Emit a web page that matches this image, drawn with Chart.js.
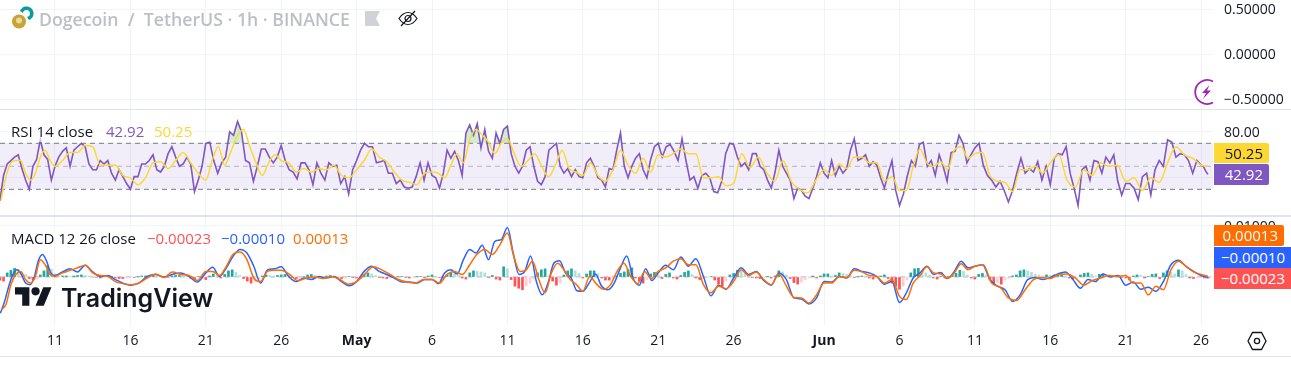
<!DOCTYPE html>
<html>
<head>
<meta charset="utf-8">
<title>DOGE/USDT RSI MACD</title>
<script src="https://cdn.jsdelivr.net/npm/chart.js@4"></script>
<style>
    html, body { margin: 0; padding: 0; background: #fff; overflow: hidden; }
    body { width: 1291px; height: 368px; position: relative; font-family: "Open Sans", sans-serif; color: #131722; }
    canvas { position: absolute; left: 0; }
    .sep { position: absolute; left: 0; width: 1291px; background: #e0e3eb; }
    .txt { position: absolute; white-space: pre; font-size: 15px; line-height: 20px; }
    .legend { position: absolute; left: 8px; height: 20px; background: rgba(255, 255, 255, .6); }
    .tag { position: absolute; left: 1214px; font-size: 15px; text-align: right; padding-right: 6px; box-sizing: border-box; border-radius: 0 2px 2px 0; }
    svg { position: absolute; overflow: visible; }
</style>
</head>
<body>
<canvas id="topChart" width="1291" height="109" style="top:0"></canvas>
<canvas id="rsiChart" width="1291" height="105" style="top:110px"></canvas>
<canvas id="macdChart" width="1291" height="139" style="top:217px"></canvas>

<div class="sep" style="top:109px;height:1px"></div>
<div class="sep" style="top:215px;height:2px"></div>
<div class="sep" style="top:356px;height:1px"></div>

<!-- 标题 -->
<svg style="left:0;top:0" width="60" height="40">
    <circle cx="19" cy="21.5" r="7" fill="#c9a432"/>
    <circle cx="19" cy="20.5" r="3" fill="#e8d9a0"/>
    <path d="M20 11a7 7 0 1 1 9 9l-2-3a3.500 3.500 0 1 0-4-4z" fill="#0a9a9a"/>
</svg>
<div class="txt" style="left:39px;top:7px;font-size:17.7px;line-height:24px;font-weight:600;color:#bdbfc6">Dogecoin  /  TetherUS · 1h · BINANCE</div>
<svg style="left:365px;top:11px" width="15" height="15"><path d="M0 0h15l-4 7.500 4 7.500h-15z" fill="#d1d2d6"/></svg>
<svg style="left:398px;top:10px" width="20" height="17" fill="none" stroke="#131722" stroke-width="1.200">
    <path d="M1 8.500c3-4.500 6-6 9-6s6 1.500 9 6c-3 4.500-6 6-9 6s-6-1.500-9-6z"/>
    <circle cx="10" cy="8.500" r="3"/>
    <path d="M3 16L17 1"/>
</svg>

<!-- 闪电图标 -->
<svg style="left:1193px;top:79px" width="20" height="26" fill="none">
    <path d="M20 2.500A12 12 0 1 0 20 23.500" stroke="#9c27b0" stroke-width="1.800"/>
    <path d="M16.500 6L9 14h4l-3 6 8-8.500h-4z" fill="#9c27b0"/>
</svg>

<!-- RSI 图例 -->
<div class="legend" style="top:122px;width:188px"></div>
<div class="txt" style="left:11px;top:121px">RSI 14 close</div>
<div class="txt" style="left:106px;top:121px;color:#7e57c2">42.92</div>
<div class="txt" style="left:154px;top:121px;color:#fdd835">50.25</div>
<div class="tag" style="top:143px;height:20px;line-height:20px;width:55px;background:#fdd835">50.25</div>
<div class="tag" style="top:164px;height:21px;line-height:21px;width:55px;background:#7e57c2;color:#fff">42.92</div>

<!-- MACD 图例 -->
<div class="legend" style="top:228px;width:344px"></div>
<div class="txt" style="left:11px;top:228px">MACD 12 26 close</div>
<div class="txt" style="left:147px;top:228px;color:#ff5252">−0.00023</div>
<div class="txt" style="left:221px;top:228px;color:#2962ff">−0.00010</div>
<div class="txt" style="left:293px;top:228px;color:#ff6d00">0.00013</div>
<div class="tag" style="top:225px;height:21px;line-height:21px;width:70px;background:#ff6d00;color:#fff">0.00013</div>
<div class="tag" style="top:247px;height:21px;line-height:21px;width:77px;background:#2962ff;color:#fff;border-radius:0">−0.00010</div>
<div class="tag" style="top:268px;height:21px;line-height:21px;width:77px;background:#ff5252;color:#fff;border-radius:0">−0.00023</div>

<!-- 水印 -->
<svg style="left:15px;top:283px" width="37" height="29" viewBox="0 0 36 28" fill="#131722">
    <path d="M14 22H7V11H0V4h14v18zM28 22h-8l7.500-18h8L28 22z"/>
    <circle cx="20" cy="8" r="4"/>
</svg>
<div class="txt" style="left:61px;top:282px;font-family:Inter,sans-serif;font-size:25px;line-height:32px;font-weight:600;color:#131722">TradingView</div>

<svg style="left:1247px;top:331px" width="20" height="20" fill="none" stroke="#131722" stroke-width="1.300">
    <path d="M5.500 1.500h9L19 10l-4.500 8.500h-9L1 10z"/>
    <circle cx="10" cy="10" r="2.600"/>
</svg>

<script>
// 每段的起止日（以 4月11日 为第 0 天）
const blockDays = [-3.9, 0, 5, 10, 15, 20, 25, 30, 35, 40, 45, 51, 56, 61, 66, 71, 76, 76.45];

const tickDays = [0, 5, 10, 15, 20, 25, 30, 35, 40, 45, 51, 56, 61, 66, 71, 76];
const tickLabels = ['11', '16', '21', '26', 'May', '6', '11', '16', '21', '26', 'Jun', '6', '11', '16', '21', '26'];
const boldLabels = ['May', 'Jun'];

const topTicks = [0.5, 0, -0.5];
const rsiTicks = [80, 40];
const macdTicks = [0.01, 0];

const rsiValues = [
    [20, 42, 52, 55, 58, 60, 48, 38, 30, 50, 56, 73, 60, 56, 38, 50],
    [58, 63, 66, 50, 64, 67, 70, 67, 52, 47, 47, 55, 52, 55, 44, 38, 47, 41, 35, 30],
    [41, 41, 52, 52, 55, 60, 47, 45, 50, 61, 67, 58, 50, 52, 58, 52, 28, 38, 50, 70],
    [71, 55, 44, 53, 58, 80, 77, 89, 80, 55, 53, 37, 50, 65, 65, 58, 53, 58, 68],
    [55, 47, 45, 39, 53, 53, 47, 34, 53, 44, 38, 53, 50, 51, 35, 41, 26, 47, 55],
    [64, 70, 67, 67, 53, 54, 55, 44, 44, 35, 38, 32, 31, 32, 41, 53, 38, 53, 42],
    [40, 31, 44, 64, 57, 63, 55, 42, 79, 86, 77, 87, 66, 82, 63, 57, 79, 70, 82, 85],
    [61, 50, 44, 50, 64, 67, 50, 37, 34, 41, 64, 67, 70, 50, 44, 48, 41, 47, 41, 40],
    [53, 57, 50, 40, 38, 32, 48, 47, 64, 79, 50, 40, 50, 57, 61, 47, 40, 56, 67, 70],
    [58, 67, 69, 63, 55, 74, 55, 38, 41, 31, 42, 44, 40, 28, 27, 37, 61, 70, 69],
    [58, 50, 53, 47, 61, 61, 50, 47, 38, 31, 45, 64, 50, 44, 38, 22, 31, 29, 24, 22, 31, 41, 53, 44],
    [40, 55, 42, 50, 44, 48, 64, 74, 55, 57, 60, 50, 54, 51, 40, 31, 44, 55, 29, 16],
    [26, 42, 55, 50, 69, 71, 50, 55, 42, 60, 50, 37, 62, 63, 77, 70, 53, 60, 66],
    [70, 51, 42, 38, 32, 37, 29, 19, 29, 44, 57, 44, 48, 45, 54, 38, 50, 34],
    [57, 61, 60, 67, 44, 31, 16, 47, 50, 38, 55, 54, 44, 58, 53, 60, 37, 25, 35],
    [35, 31, 21, 41, 44, 25, 47, 55, 50, 73, 71, 58, 61, 60, 55, 44, 55, 51],
    [50, 46, 42.92]
];

const rsiSignal = [
    [21, 41, 53, 55, 55, 44, 38, 44, 58, 64, 55, 50],
    [55, 62, 62, 68, 67, 51, 51, 51, 42, 40],
    [34, 40, 53, 54, 48, 55, 62, 53, 44, 38],
    [55, 67, 51, 63, 76, 82, 67, 53, 42, 53, 60, 55],
    [53, 45, 48, 45, 48, 47, 51, 42, 40, 47],
    [55, 65, 58, 54, 45, 38, 36, 34, 44, 45],
    [44, 40, 51, 61, 53, 73, 82, 77, 71, 61, 70, 74],
    [61, 50, 55, 61, 50, 41, 51, 64, 48, 45, 42],
    [53, 42, 37, 47, 64, 51, 44, 57, 45, 60],
    [58, 61, 65, 61, 61, 40, 40, 41, 33, 35],
    [61, 49, 58, 45, 37, 55, 37, 30, 27, 38, 47],
    [42, 52, 48, 58, 58, 53, 53, 37, 41, 29],
    [29, 50, 65, 53, 50, 54, 47, 64, 67, 57, 61],
    [62, 42, 37, 36, 28, 47, 47, 50, 44, 53],
    [60, 38, 32, 47, 42, 53, 50, 51, 37],
    [40, 29, 40, 36, 53, 67, 60, 57, 51],
    [50.5, 50.25]
];

const macdValues = [
    [-0.0071, -0.0048, -0.0018, 0.0005, 0.0014, 0.0005, -0.0012, -0.0015, -0.0002, 0.0031, 0.0044, 0.0031, 0.0008, 0.0003],
    [0.001, 0.0016, 0.001, 0.0023, 0.001, 0.0001, 0.0003, -0.0005, -0.0012, -0.0016],
    [-0.0012, 0.0001, 0.0005, 0, 0.0005, 0.0008, 0.0001, -0.001, 0.0008],
    [0.0019, 0.0001, 0.0018, 0.0041, 0.0054, 0.0047, 0.0021, -0.0012, 0.0014, 0.0016, 0.002],
    [0.0001, -0.0009, -0.0002, -0.0005, 0.0001, -0.0002, 0.0001, -0.0009, -0.0017, -0.0009],
    [0.0011, 0.0021, 0.0011, 0.0005, -0.0002, -0.001, -0.001, -0.0012, -0.0005, -0.0005],
    [-0.0013, 0.0008, 0.0014, 0.0006, 0.0034, 0.0054, 0.0047, 0.0062, 0.0034, 0.007, 0.0073, 0.0097],
    [0.0047, 0.0005, 0.0011, 0.0041, -0.0009, -0.0035, -0.0012, 0.0027, 0.0032, 0.0008, -0.0002, -0.0027, -0.0028],
    [-0.0012, 0.0006, -0.0018, -0.0025, -0.0012, 0.0018, 0.0041, -0.0002, -0.0016, 0.0016, -0.0007, 0.0008],
    [0.0023, 0.0014, 0.0039, 0.0021, 0.0036, 0.0001, -0.0037, -0.0016, -0.0024, -0.0002],
    [0.0018, 0.0005, 0.0011, -0.0007, -0.0016, 0.0008, -0.0005, -0.0041, -0.0043, -0.0053, -0.0041, -0.0009],
    [-0.001, 0.0001, -0.0002, 0.0016, 0.0011, 0.0008, 0.0001, -0.0014, -0.0009, -0.005],
    [-0.0031, -0.0002, 0.0008, 0.0021, 0.0005, 0.0009, -0.0003, 0.0011, 0.0031, 0.0018, 0.0021],
    [0.0024, -0.0005, -0.0018, -0.0025, -0.0048, -0.0035, -0.0005, -0.0001, -0.0005, -0.0001],
    [0.0006, 0.001, -0.0005, -0.0022, -0.0005, -0.0009, 0.0006, 0, 0.0003, -0.0016],
    [-0.001, -0.0024, -0.002, -0.0028, -0.0009, 0.0024, 0.0033, 0.0021, 0.0011, 0.0003],
    [-0.0001]
];

const macdSignal = [
    [-0.0064, -0.0054, -0.0015, 0.0005, 0.0011, -0.0005, -0.0012, 0.0001, 0.0034, 0.0024, 0.0005, 0.0001],
    [0.0008, 0.0013, 0.0018, 0.0023, 0.0008, 0.0003, 0.0001, -0.0009, -0.0013, -0.0015],
    [-0.0012, -0.0002, 0.0006, -0.0001, 0.001, 0.0005, 0.0003, -0.0007, 0.0011],
    [0.0011, 0.0003, 0.0021, 0.0045, 0.0049, 0.0034, -0.0002, -0.0009, 0.0011, 0.0013, 0.0013],
    [0.0005, -0.0007, -0.0002, 0, -0.0003, 0.0001, -0.0005, -0.0014, -0.0009],
    [0.0006, 0.002, 0.0014, 0.0005, -0.0005, -0.001, -0.0012, -0.0005, -0.0005],
    [-0.0012, 0.0005, 0.0011, 0.0005, 0.0024, 0.0045, 0.0054, 0.0044, 0.0063, 0.0086],
    [0.0041, 0.0011, 0.0014, 0.0031, -0.0005, -0.0031, 0.0008, 0.0027, 0.0014, -0.0005, -0.0015, -0.0028],
    [0.0001, -0.0014, -0.0024, -0.0016, 0.0011, 0.0027, 0.0001, -0.0013, 0.0011, -0.0003, 0.0011],
    [0.0018, 0.0031, 0.0036, 0.0024, 0.0024, -0.0015, -0.0031, -0.0018, -0.0023, -0.0009],
    [0.0014, 0.0003, 0.001, -0.0005, -0.0015, 0.0006, -0.0018, -0.004, -0.0041, -0.0051, -0.0035, -0.0012],
    [-0.0012, 0.0001, -0.0001, 0.0013, 0.001, 0.0003, 0.0001, -0.0012, -0.0005, -0.0038],
    [-0.0044, -0.0012, 0.0003, 0.002, 0.0008, 0.0006, -0.0002, 0.0008, 0.0026, 0.0014, 0.0021],
    [0.0024, -0.0012, -0.002, -0.0041, -0.0046, -0.0025, -0.0005, -0.0001, -0.0003],
    [0.0005, 0.0006, -0.0002, -0.0016, -0.0007, -0.0002, 0.0003, 0.0001, 0.0003],
    [-0.0012, -0.0012, -0.0035, -0.0018, -0.0025, 0.0014, 0.0031, 0.0021, 0.001, 0.0005],
    [0.00013]
];

const histValues = [
    [-0.0006, -0.0008, 0.0008, 0.0013, 0.0017, 0.0014, 0.001, 0.0005, -0.0003, -0.0005, -0.0004, 0.0004, 0.0012, 0.0022, 0.0015, 0.0006],
    [0.0001, 0.0002, 0.0002, 0.0001, 0.0002, 0.0003, 0.0004, 0.0003, 0.0002, 0.0001, -0.0001, -0.0002, -0.0001, 0.0001, 0.0001, -0.0002, -0.0003, -0.0003, -0.0002, -0.0001],
    [-0.0001, 0.0001, 0.0002, 0.0002, 0.0003, 0.0003, 0.0002, 0.0001, -0.0001, -0.0001, 0.0002, 0.0003, 0.0003, 0.0002, 0.0001, -0.0002, -0.0004, 0.0001, -0.0002, -0.0005],
    [0.0002, 0.0006, 0.0003, -0.0002, 0.0005, 0.0012, 0.0014, 0.0009, 0.0003, -0.0003, -0.0008, -0.0012, -0.0009, -0.0004, 0.0002, 0.0004, 0.0003, 0.0002, 0.0003, 0.0004],
    [0.0005, 0.0003, -0.0001, -0.0003, -0.0002, 0.0001, 0.0004, 0.0005, 0.0003, 0.0001, -0.0001, 0.0002, 0.0003, 0.0002, -0.0001, -0.0003, -0.0002, 0.0001, -0.0001, -0.0002],
    [-0.0003, 0.0005, 0.0008, 0.0006, 0.0003, -0.0001, -0.0002, -0.0003, -0.0002, -0.0001, 0.0001, 0.0001, -0.0001, -0.0002, -0.0001, 0.0001, 0.0001, -0.0001, 0.0002, 0.0004],
    [0.0001, -0.0001, -0.0002, 0.0004, 0.0008, 0.0006, 0.0004, -0.0002, -0.0004, 0.0008, 0.0012, 0.0011, 0.001, 0.0008, -0.0001, 0.0003, -0.0004, -0.0006, 0.002, 0.0016],
    [-0.0005, -0.0018, -0.0022, -0.0025, -0.0018, -0.0012, -0.0004, 0.0008, 0.0014, 0.0016, 0.0002, -0.0008, -0.0016, -0.0012, 0.0004, 0.0012, 0.0016, 0.0012, 0.0007, -0.0002],
    [0.0006, 0.0012, 0.0012, 0.0006, -0.0002, -0.0006, -0.0006, -0.0003, 0.0002, 0.0007, 0.001, 0.0015, 0.0018, -0.0002, -0.0008, -0.0012, -0.0005, 0.0006, 0.0009, 0.0004],
    [-0.0003, 0.0005, 0.0008, -0.0002, -0.0004, 0.0003, 0.0009, 0.0012, 0.0005, -0.0002, -0.0005, -0.0003, -0.0002, 0.0001, -0.0006, -0.0014, -0.0018, -0.0008, 0.0004, 0.0007],
    [0.0013, 0.0011, 0.0006, 0.0003, -0.0001, -0.0002, -0.0003, -0.0001, 0.0001, -0.0002, 0.0002, 0.0012, 0.001, 0.0004, -0.0003, -0.0011, -0.0014, -0.001, -0.0005, -0.0002, 0.0002, -0.0002, 0.0002, 0.0006],
    [0.0006, 0.0002, 0.0003, 0.0008, 0.0007, 0.0005, 0.0003, -0.0001, 0.0001, 0.0002, 0.0001, -0.0002, -0.0004, 0.0001, 0.0002, 0.0004, -0.0003, -0.0012, -0.0018, -0.0024],
    [-0.0018, -0.0006, 0.0008, 0.0016, 0.0017, 0.0012, 0.0008, 0.0004, -0.0002, -0.0004, 0.0001, -0.0002, 0.0001, 0.0003, 0.0007, 0.0013, 0.0011, 0.0004, -0.0002, -0.0004],
    [0.0005, 0.0007, 0.0004, -0.0006, -0.0012, -0.0011, -0.0014, -0.0006, -0.0003, 0.0002, 0.0004, 0.0012, 0.0014, 0.0012, 0.0009, 0.0005, 0.0004, 0.0002, 0.0004, 0.0003],
    [0.0004, 0.0005, 0.0006, 0.0002, -0.0002, -0.0004, -0.0002, 0.0004, 0.0007, 0.0008, 0.0005, 0.0002, 0.0005, 0.0006, 0.0004, 0.0002, 0.0001, 0.0002, -0.0001, -0.0002],
    [-0.0006, 0.0002, 0.0004, 0.0003, -0.0002, 0.0001, 0.0005, 0.0006, -0.0003, 0.0008, 0.0012, 0.001, 0.0006, 0.0014, 0.0012, 0.0005, -0.0002, -0.0003, -0.0002, -0.0001],
    [-0.0002, -0.00023]
];

const xMin = -3.647;
const xMax = 76.79;
const gridColor = '#f0f3fa';
const fontName = '"Open Sans", sans-serif';

const toPoints = (blocks) => blocks.flatMap((vals, b) => vals.map((y, j) => ({
    x: blockDays[b] + (j + 1) * (blockDays[b + 1] - blockDays[b]) / vals.length,
    y: y
})));

const levelLine = (y, color, extra) => Object.assign({
    type: 'line',
    data: [{x: xMin, y: y}, {x: xMax, y: y}],
    borderColor: color,
    borderWidth: 1,
    borderDash: [5, 4],
    pointRadius: 0,
    order: 5
}, extra);

const histColors = (vals) => vals.map((v, i) => {
    const prev = i > 0 ? vals[i - 1] : 0;
    if (v >= 0) return v >= prev ? '#26a69a' : '#b2dfdb';
    return v <= prev ? '#ff5252' : '#ffcdd2';
});

const makeOptions = (yMin, yMax, yTicks, yFormat, showX) => ({
    responsive: false,
    animation: false,
    events: [],
    layout: {padding: 0},
    plugins: {legend: {display: false}, tooltip: {enabled: false}},
    scales: {
        x: {
            type: 'linear',
            offset: false,
            min: xMin,
            max: xMax,
            grid: {color: gridColor, drawTicks: false, offset: false},
            border: {display: false},
            afterBuildTicks: (scale) => { scale.ticks = tickDays.map(value => ({value})); },
            afterFit: (scale) => {
                scale.height = showX ? 31 : 0;
                scale.paddingLeft = 0;
                scale.paddingRight = 0;
            },
            ticks: {
                display: showX,
                autoSkip: false,
                maxRotation: 0,
                padding: 8,
                color: '#131722',
                font: (ctx) => {
                    const label = ctx.tick ? tickLabels[tickDays.indexOf(ctx.tick.value)] : '';
                    return {family: fontName, size: 14, weight: boldLabels.includes(label) ? '700' : '400'};
                },
                callback: (value) => tickLabels[tickDays.indexOf(value)]
            }
        },
        y: {
            position: 'right',
            min: yMin,
            max: yMax,
            grid: {color: gridColor, drawTicks: false},
            border: {display: false},
            afterBuildTicks: (scale) => { scale.ticks = yTicks.map(value => ({value})); },
            afterFit: (scale) => {
                scale.width = 78;
                scale.paddingTop = 0;
                scale.paddingBottom = 0;
            },
            ticks: {
                autoSkip: false,
                align: 'center',
                labelOffset: 1.5,
                padding: 11,
                color: '#131722',
                font: {family: fontName, size: 14},
                callback: yFormat
            }
        }
    }
});

const drawCharts = () => {
    // 上面空的价格区
    new Chart(document.getElementById('topChart').getContext('2d'), {
        type: 'line',
        data: {datasets: []},
        options: makeOptions(-0.611, 0.6, topTicks, (v) => (v < 0 ? '−' : '') + Math.abs(v).toFixed(5), false)
    });

    // RSI
    new Chart(document.getElementById('rsiChart').getContext('2d'), {
        type: 'line',
        data: {
            datasets: [
                levelLine(70, '#787b86', {fill: {target: {value: 30}}, backgroundColor: 'rgba(126,87,194,0.1)'}),
                levelLine(30, '#787b86'),
                levelLine(50, 'rgba(120,123,134,0.5)'),
                {
                    data: toPoints(rsiValues),
                    borderColor: '#7e57c2',
                    borderWidth: 1.6,
                    pointRadius: 0,
                    tension: 0,
                    fill: {target: {value: 70}, above: 'rgba(76,175,80,0.25)', below: 'transparent'},
                    order: 2
                },
                {
                    data: toPoints(rsiSignal),
                    borderColor: '#fdd835',
                    borderWidth: 1.5,
                    pointRadius: 0,
                    cubicInterpolationMode: 'monotone',
                    order: 1
                }
            ]
        },
        options: makeOptions(7.65, 98.96, rsiTicks, (v) => v === 40 ? '' : v.toFixed(2), false)
    });

    // MACD
    const histFlat = histValues.flat();
    new Chart(document.getElementById('macdChart').getContext('2d'), {
        type: 'bar',
        data: {
            datasets: [
                {
                    type: 'bar',
                    data: toPoints(histValues),
                    backgroundColor: histColors(histFlat),
                    barThickness: 2,
                    order: 4
                },
                levelLine(0, 'rgba(120,123,134,0.5)'),
                {
                    type: 'line',
                    data: toPoints(macdValues),
                    borderColor: '#2962ff',
                    borderWidth: 1.5,
                    pointRadius: 0,
                    cubicInterpolationMode: 'monotone',
                    order: 2
                },
                {
                    type: 'line',
                    data: toPoints(macdSignal),
                    borderColor: '#ff6d00',
                    borderWidth: 1.5,
                    pointRadius: 0,
                    cubicInterpolationMode: 'monotone',
                    order: 1
                }
            ]
        },
        options: makeOptions(-0.00941, 0.01176, macdTicks, (v) => v === 0 ? '' : v.toFixed(5), true)
    });
};

window.onload = drawCharts;
</script>
</body>
</html>
